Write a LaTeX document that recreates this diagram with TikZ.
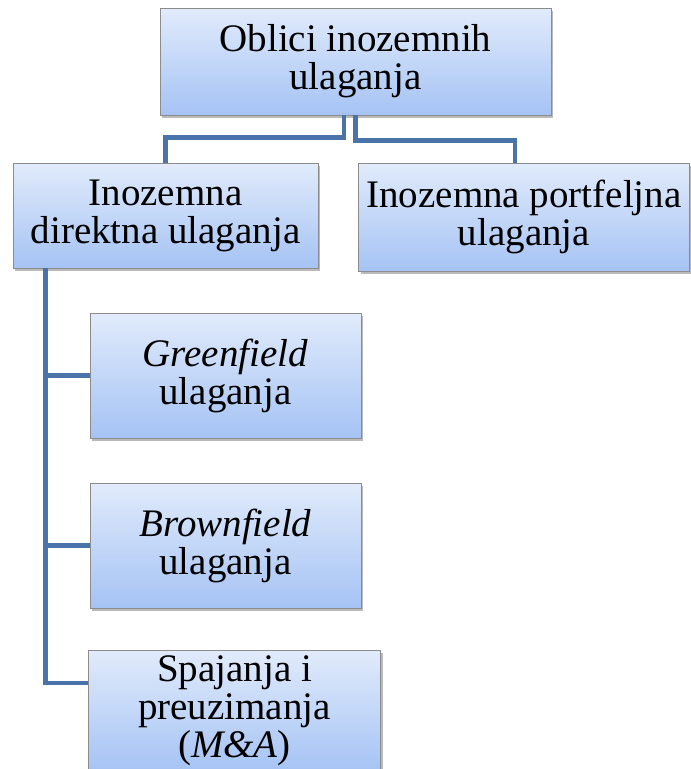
\documentclass[tikz,border=0pt]{standalone}
\usepackage{fontspec}
\setmainfont{Liberation Serif}
\usetikzlibrary{shadows}
\definecolor{boxtop}{HTML}{E1EBFB}
\definecolor{boxbot}{HTML}{A5C3F4}
\definecolor{linkblue}{HTML}{4A74A9}
\begin{document}
\begin{tikzpicture}[x=1pt,y=-1pt,
  box/.style={draw=black!45, line width=0.8pt, top color=boxtop, bottom color=boxbot,
    align=center, inner sep=0pt, font={\fontsize{39}{38}\selectfont},
    drop shadow={shadow xshift=2pt, shadow yshift=-3pt, fill=black!45, opacity=0.6}},
  link/.style={draw=linkblue, line width=4.5pt, line join=miter}]
\useasboundingbox (0,0) rectangle (691,769);
\clip (0,0) rectangle (691,769);
\node[box, minimum width=391pt, minimum height=107pt] (top) at (355.5,61.5) {Oblici inozemnih\\ulaganja};
\node[box, minimum width=305pt, minimum height=105pt] (L1) at (165.5,215.5) {Inozemna\\direktna ulaganja};
\node[box, minimum width=331pt, minimum height=108pt] (R1) at (524,217) {Inozemna portfeljna\\ulaganja};
\node[box, minimum width=271pt, minimum height=125pt] (G) at (225.5,375.5) {\textit{Greenfield}\\ulaganja};
\node[box, minimum width=271pt, minimum height=125pt] (B) at (225.5,545.5) {\textit{Brownfield}\\ulaganja};
\node[box, minimum width=292pt, minimum height=122pt] (MA) at (234.5,711) {Spajanja i\\preuzimanja\\(\textit{M\&A})};
\draw[link] ([xshift=-11.5pt]top.south) -- ++(0,22) -| (L1.north);
\draw[link] (top.south) -- ++(0,25) -| ([xshift=-9pt]R1.north);
\coordinate (sp) at ([xshift=-120pt]L1.south);
\draw[link] (sp) |- ([yshift=28pt]MA.west);
\draw[link] (G.west) -- (G.west -| sp);
\draw[link] (B.west) -- (B.west -| sp);
\end{tikzpicture}
\end{document}
